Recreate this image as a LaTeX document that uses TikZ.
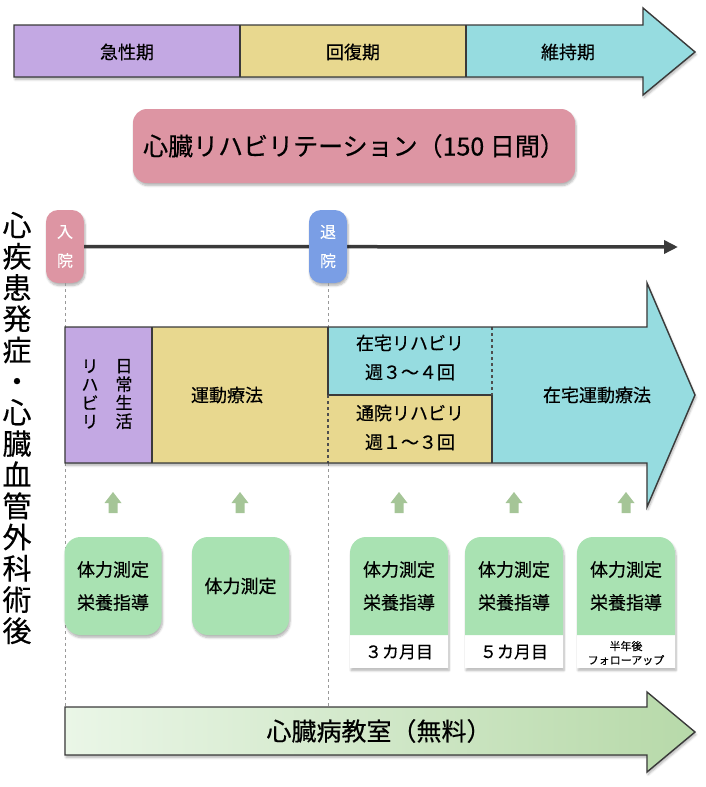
\documentclass[tikz,border=0pt]{standalone}
\usepackage{fontspec}
\setmainfont{Noto Sans CJK JP}[FakeBold=0.4]
\usetikzlibrary{arrows.meta,shadows.blur}

\definecolor{kyusei}{HTML}{C3A8E3}
\definecolor{kaifuku}{HTML}{E8D88F}
\definecolor{iji}{HTML}{96DCE0}
\definecolor{rehapink}{HTML}{DD95A3}
\definecolor{taiinblue}{HTML}{7A9EE5}
\definecolor{kensa}{HTML}{A9E2B2}
\definecolor{yajirushi}{HTML}{A5C597}
\definecolor{kyoshitsuL}{HTML}{EAF6E7}
\definecolor{kyoshitsuR}{HTML}{B7D9A9}
\definecolor{waku}{HTML}{3A3A3A}

\begin{document}
\begin{tikzpicture}[x=1pt,y=-1pt,
    outline/.style={draw=waku, line width=1.4pt},
    inline/.style={draw=waku!90, line width=1.2pt, dash pattern=on 3pt off 3pt},
    guide/.style={draw=black!40, line width=1pt, dash pattern=on 3pt off 3pt},
    shadowed/.style={blur shadow={shadow xshift=1pt, shadow yshift=-2.5pt, shadow blur steps=6, shadow opacity=30}},
    phase/.style={font=\fontsize{18}{20}\selectfont},
    armtxt/.style={align=center, font=\fontsize{18}{29}\selectfont},
    vtxt/.style={align=center, font=\fontsize{17}{18.5}\selectfont},
    tagbox/.style={shadowed, rounded corners=12pt, minimum width=38pt, minimum height=73pt,
        text=white, align=center, font=\fontsize{16}{29}\selectfont, inner sep=0pt},
    cardtxt/.style={align=center, font=\fontsize{18}{33}\selectfont},
    card/.style={shadowed, fill=kensa, rounded corners=16pt, minimum width=97pt, minimum height=98pt, cardtxt}]

    \useasboundingbox (0,0) rectangle (706,787);

    % 上の矢印 (期間)
    \path[fill=iji, shadowed] (14,25) -- (643,25) -- (643,8) -- (695,52) -- (643,95) -- (643,77) -- (14,77) -- cycle;
    \fill[kyusei] (14,25) rectangle (240,77);
    \fill[kaifuku] (240,25) rectangle (466,77);
    \draw[outline] (240,25) -- (240,77);
    \draw[outline] (466,25) -- (466,77);
    \draw[outline] (14,25) -- (643,25) -- (643,8) -- (695,52) -- (643,95) -- (643,77) -- (14,77) -- cycle;
    \node[phase] (kyuseiki) at (127,52) {急性期};
    \node[phase] (kaifukuki) at (353,52) {回復期};
    \node[phase] (ijiki) at (568,52) {維持期};

    % 心臓リハビリテーション
    \node[shadowed, fill=rehapink, rounded corners=14pt, minimum width=442pt, minimum height=74pt,
        font=\fontsize{25}{28}\selectfont] (rehab) at (354,146) {心臓リハビリテーション（150 日間）};

    % 左の縦書き
    \node[align=center, font=\fontsize{29}{31.2}\selectfont] (hassho) at (17,428)
        {心\\疾\\患\\発\\症\\・\\心\\臓\\血\\管\\外\\科\\術\\後};

    % 入院・退院
    \node[tagbox, fill=rehapink] (nyuin) at (65,246.5) {入\\院};
    \coordinate (tlend) at (678,247);
    \draw[line width=3.5pt, draw=waku, -{Triangle[length=14pt,width=13pt]}] (nyuin.east) -- (tlend);
    \node[tagbox, fill=taiinblue] (taiin) at (328,246.5) {退\\院};
    \coordinate (g1) at (65,707);
    \coordinate (g2) at (328,707);
    \draw[guide] (nyuin.south) -- (g1);
    \draw[guide] (taiin.south) -- (g2);

    % 中段の矢印 (リハビリ)
    \path[fill=iji, shadowed] (65,327) -- (647,327) -- (647,283) -- (695,395) -- (647,507) -- (647,463) -- (65,463) -- cycle;
    \fill[kaifuku] (152,327) rectangle (492,463);
    \fill[kyusei] (65,327) rectangle (152,463);
    \fill[iji] (328,327) rectangle (492,395);
    \draw[outline] (152,327) -- (152,463);
    \draw[outline] (328,327) -- (328,395) -- (492,395) -- (492,463);
    \draw[inline] (492,327) -- (492,395);
    \draw[inline] (328,395) -- (328,463);
    \draw[outline] (65,327) -- (647,327) -- (647,283) -- (695,395) -- (647,507) -- (647,463) -- (65,463) -- cycle;
    \node[vtxt] (nichijo) at (124,394) {日\\常\\生\\活};
    \node[vtxt] (rihabiri) at (90,394) {リ\\ハ\\ビ\\リ};
    \node[armtxt] (undo) at (227,395) {運動療法};
    \node[armtxt] (zaitakuR) at (410,357.5) {在宅リハビリ\\週３～４回};
    \node[armtxt] (tsuinR) at (410,427.5) {通院リハビリ\\週１～３回};
    \node[armtxt] (zaitakuU) at (597,395) {在宅運動療法};

    % 小さい矢印
    \foreach \x in {113,240,399,514,626}
        \fill[yajirushi] (\x-4.5,513) -- (\x-4.5,503) -- (\x-8.5,503) -- (\x,492) -- (\x+8.5,503) -- (\x+4.5,503) -- (\x+4.5,513) -- cycle;

    % 体力測定
    \node[card] (kei1) at (113,586) {体力測定\\栄養指導};
    \node[card] (kei2) at (240.5,586) {体力測定};
    \foreach \x in {399,514,626} {
        \path[fill=white, shadowed] (\x-49,668) [rounded corners=16pt] -- (\x-49,537) -- (\x+49,537) [sharp corners] -- (\x+49,668) -- cycle;
        \fill[kensa] (\x-49,635) [rounded corners=16pt] -- (\x-49,537) -- (\x+49,537) [sharp corners] -- (\x+49,635) -- cycle;
    }
    \node[cardtxt] (kei3) at (399,586) {体力測定\\栄養指導};
    \node[cardtxt] (kei4) at (514,586) {体力測定\\栄養指導};
    \node[cardtxt] (kei5) at (626,586) {体力測定\\栄養指導};
    \node[font=\fontsize{17}{20}\selectfont] (tsuki3) at (399,652) {３カ月目};
    \node[font=\fontsize{17}{20}\selectfont] (tsuki5) at (514,652) {５カ月目};
    \node[align=center, font=\fontsize{11}{14}\selectfont] (hantoshi) at (626,653) {半年後\\フォローアップ};

    % 心臓病教室
    \path[outline, left color=kyoshitsuL, right color=kyoshitsuR, shadowed]
        (65,707) -- (647,707) -- (647,692) -- (695,732) -- (647,772) -- (647,755) -- (65,755) -- cycle;
    \node[font=\fontsize{25}{28}\selectfont] (kyoshitsu) at (379,731) {心臓病教室（無料）};
\end{tikzpicture}
\end{document}
